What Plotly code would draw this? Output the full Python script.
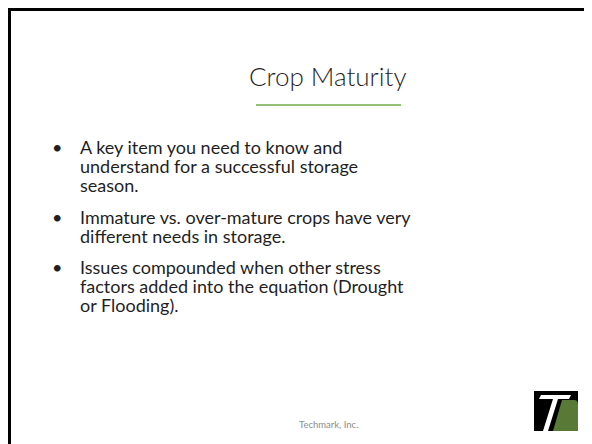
import plotly.graph_objects as go

W, H = 592, 444
PAD = 8  # page body margin the browser adds around the plot div

TITLE = "Crop Maturity"
FOOTER = "Techmark, Inc."

# each bullet is a list of wrapped lines
BULLETS = [
    ["A key item you need to know and",
     "understand for a successful storage",
     "season."],
    ["Immature vs. over-mature crops have very",
     "different needs in storage."],
    ["Issues compounded when other stress",
     "factors added into the equation (Drought",
     "or Flooding)."],
]

BODY_FONT = "Lato, 'Open Sans', sans-serif"
INK = "#1f1f1f"

fig = go.Figure()

shapes = []
annotations = []

# slide frame (runs off the right and bottom of the page)
shapes.append(dict(type="rect", x0=9.5, y0=9.5, x1=W + 20, y1=H + 20,
                   line=dict(color="black", width=3), fillcolor="rgba(0,0,0,0)"))

# title + green underline
annotations.append(dict(x=328, y=76, text=TITLE, showarrow=False,
                        xanchor="center", yanchor="middle",
                        font=dict(family=BODY_FONT, size=26, color=INK, weight=300)))
shapes.append(dict(type="line", x0=256, x1=401, y0=105, y1=105,
                   line=dict(color="#70ad47", width=1.5)))

# bullets - one annotation per wrapped line (slide uses tight line pitch)
y = 147
line_gap = 19.2
bullet_gap = 12
for lines in BULLETS:
    annotations.append(dict(x=57, y=y, text="•", showarrow=False,
                            xanchor="center", yanchor="middle",
                            font=dict(family=BODY_FONT, size=18, color=INK)))
    for ln in lines:
        annotations.append(dict(x=78, y=y, text=ln, showarrow=False,
                                xanchor="left", yanchor="middle",
                                font=dict(family=BODY_FONT, size=18, color=INK)))
        y += line_gap
    y += bullet_gap

# footer
annotations.append(dict(x=328, y=424, text=FOOTER, showarrow=False,
                        xanchor="center", yanchor="middle",
                        font=dict(family=BODY_FONT, size=9.5, color="#8c8c8c")))

# Techmark logo: black box, white slanted T, green block
shapes.append(dict(type="rect", x0=534, x1=578, y0=391, y1=431,
                   line=dict(width=0), fillcolor="black"))
shapes.append(dict(type="path", path="M 541 395 L 571 395 L 569 399 L 539 399 Z",
                   line=dict(width=0), fillcolor="white"))
shapes.append(dict(type="path", path="M 553 399 L 558 399 L 548 431 L 543 431 Z",
                   line=dict(width=0), fillcolor="white"))
shapes.append(dict(type="path",
                   path="M 562 400 L 574 400 Q 578 400 578 405 L 578 431 L 553 431 Z",
                   line=dict(width=0), fillcolor="#587a36"))

fig.update_layout(
    width=W - PAD, height=H - PAD,
    margin=dict(l=0, r=0, t=0, b=0),
    paper_bgcolor="white", plot_bgcolor="white",
    xaxis=dict(range=[PAD, W], visible=False, fixedrange=True),
    yaxis=dict(range=[H, PAD], visible=False, fixedrange=True),
    shapes=shapes, annotations=annotations,
    showlegend=False,
)

fig.write_html("out.html")
